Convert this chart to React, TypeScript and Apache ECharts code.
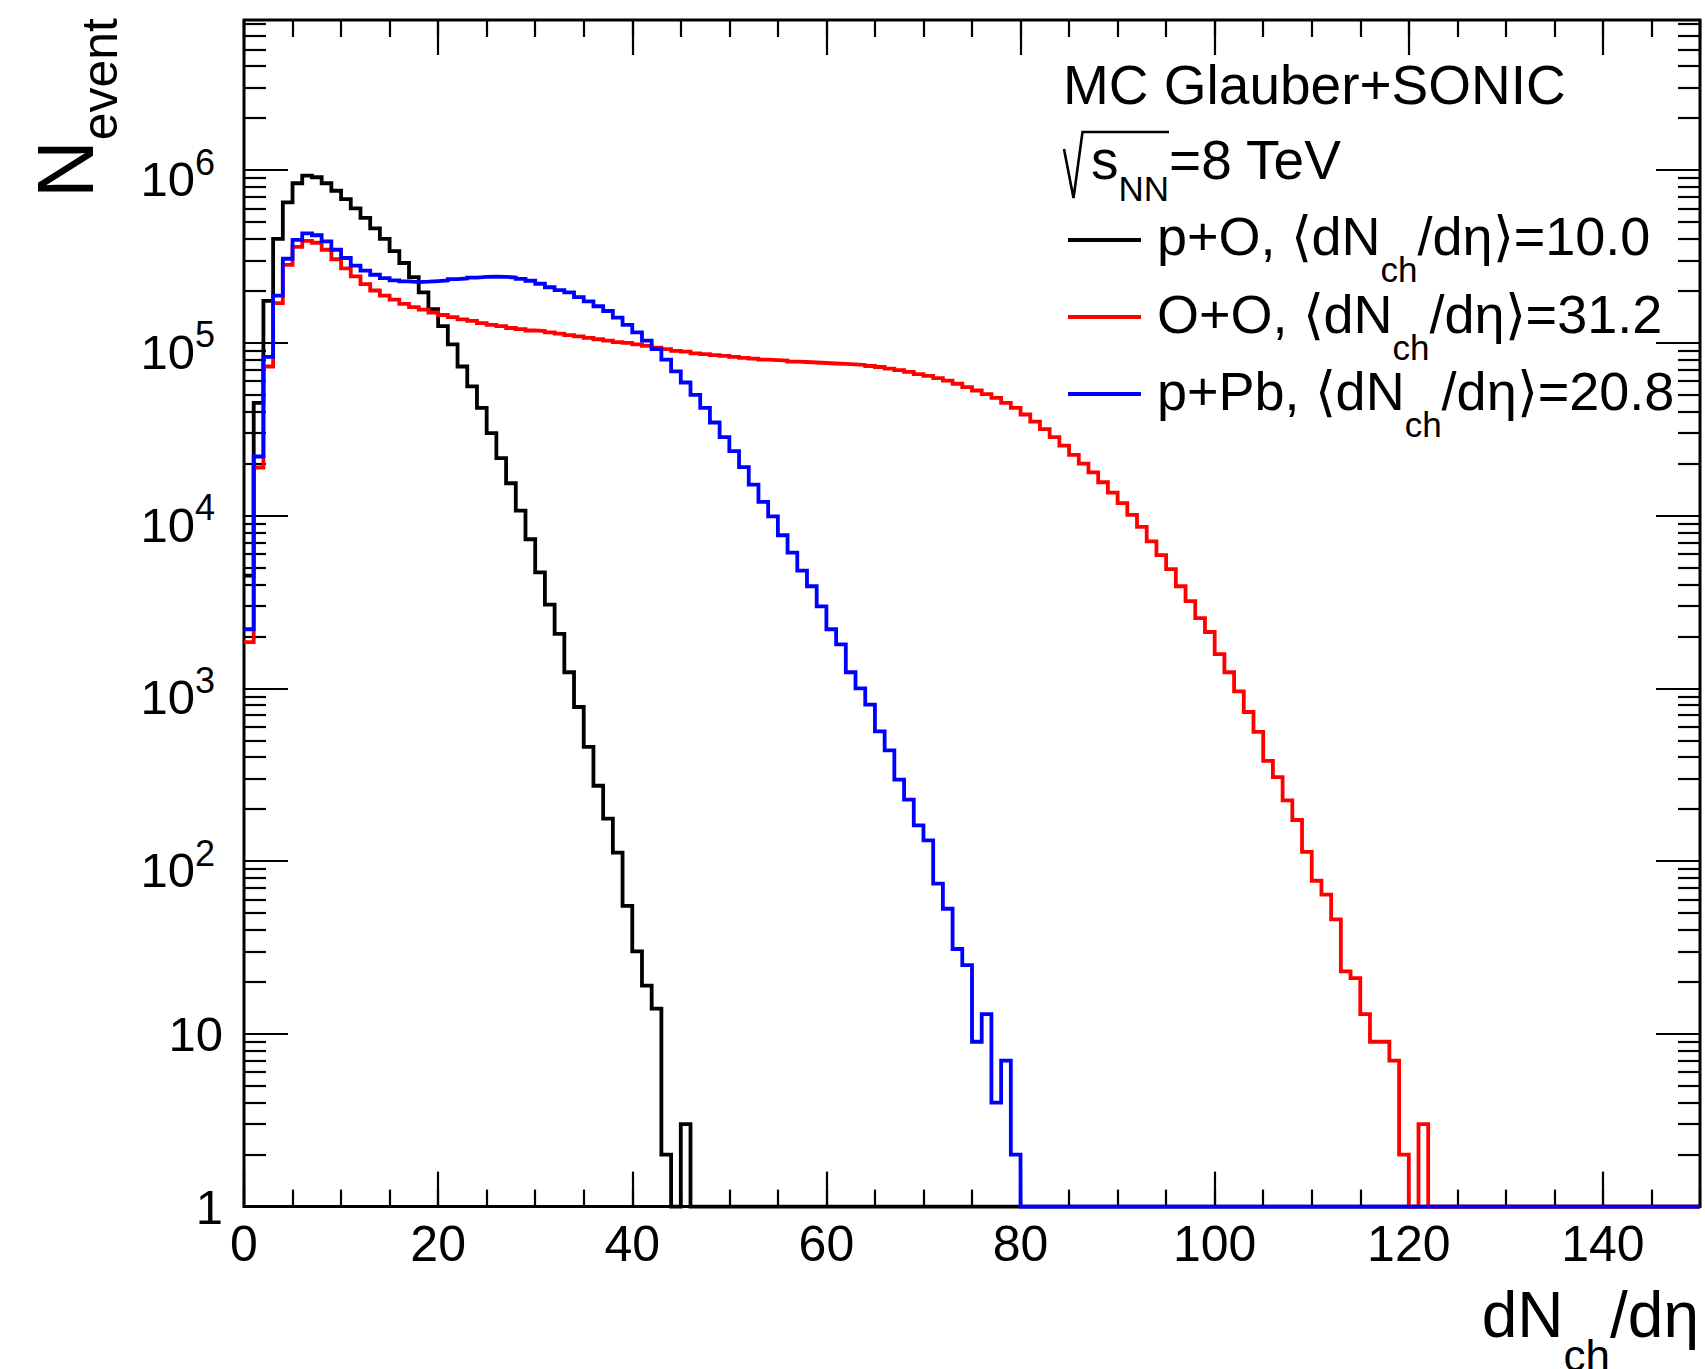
import React, { useEffect, useRef } from "react";
import * as echarts from "echarts";

const FONT = '"Liberation Sans", Arial, Helvetica, sans-serif';

// ---- axis ranges / ticks ----
const X_MIN = 0;
const X_MAX = 150;
const BIN_WIDTH = 1;
const N_BINS = 150;
const Y_MIN = 1;
const Y_MAX = 7.4e6;
const X_MAJOR_STEP = 20;
const X_MINOR_STEP = 5;
const yMajorTicks = [1, 10, 100, 1000, 10000, 100000, 1000000];
const yTickLabels = ["1", "10", "10^2", "10^3", "10^4", "10^5", "10^6"];
const yMinorMultipliers = [2, 3, 4, 5, 6, 7, 8, 9];

// ---- series (bin contents, bin i covers [i, i+1); bins not listed are empty) ----
const seriesNames = ["p+O", "O+O", "p+Pb"];
const seriesMeans = ["10.0", "31.2", "20.8"];
const seriesColors = ["#000000", "#ff0000", "#0000ff"];

const pOCounts = [
  4500, 45000, 175000, 400000, 650000, 840000, 930000, 910000, 840000, 760000,
  680000, 600000, 530000, 460000, 400000, 340000, 290000, 240000, 196000, 157000,
  125000, 98000, 73000, 56000, 42000, 30000, 21500, 15400, 10700, 7300,
  4700, 3050, 2070, 1240, 780, 458, 273, 176, 112, 55,
  30, 19, 14, 2, 0, 3,
];

const OOCounts = [
  1850, 19000, 73000, 170000, 283000, 360000, 390000, 380000, 346000, 305000,
  270000, 243000, 219000, 201000, 188000, 178000, 168000, 161000, 156000, 150000,
  145000, 141000, 137000, 134000, 130000, 127000, 125000, 122000, 120000, 118000,
  117000, 115000, 113000, 111000, 109000, 107000, 105000, 103000, 101000, 100000,
  98000, 96000, 94000, 92000, 90000, 89000, 87000, 86000, 85000, 84000,
  83000, 82000, 81000, 80000, 79500, 79000, 78000, 77500, 77000, 76500,
  76000, 75500, 75000, 74500, 73500, 72500, 71000, 69500, 68000, 66000,
  64500, 62500, 60500, 58000, 55500, 53000, 50500, 48000, 45000, 42000,
  38500, 35000, 31700, 28500, 25400, 22500, 20000, 17800, 15600, 13600,
  11800, 10100, 8600, 7100, 5900, 4900, 3900, 3200, 2550, 2120,
  1580, 1240, 960, 730, 560, 380, 306, 225, 173, 113,
  77, 64, 46, 23, 21, 13, 9, 9, 7, 2,
  0, 3,
];

const pPbCounts = [
  2200, 22000, 83000, 188000, 307000, 395000, 430000, 420000, 387000, 346000,
  310000, 280000, 262000, 248000, 237000, 230000, 227000, 225000, 226000, 228000,
  230000, 234000, 236000, 239000, 241000, 242000, 241000, 239000, 235000, 229000,
  220000, 210000, 202000, 196000, 184000, 174000, 163000, 153000, 140000, 127000,
  115000, 103000, 92000, 80000, 68500, 59000, 50000, 42000, 34600, 28500,
  23600, 19100, 15100, 12000, 9900, 7700, 6100, 4800, 3900, 2980,
  2200, 1800, 1240, 1000, 805, 563, 438, 296, 227, 161,
  132, 74, 53, 31, 25, 9, 13, 4, 7, 2,
];

const allCounts = [pOCounts, OOCounts, pPbCounts];

function histPoints(counts: number[]): [number, number][] {
  const pts: [number, number][] = [];
  for (let i = 0; i < N_BINS; i++) {
    const c = i < counts.length ? counts[i] : 0;
    // empty bins sit on the axis minimum, as in a log-scale histogram outline
    pts.push([X_MIN + i * BIN_WIDTH, Math.max(c, Y_MIN)]);
  }
  pts.push([X_MAX, pts[pts.length - 1][1]]);
  return pts;
}

function yMinorTicks(): number[] {
  const out: number[] = [];
  for (const d of yMajorTicks) {
    for (const m of yMinorMultipliers) {
      const v = d * m;
      if (v < Y_MAX) out.push(v);
    }
  }
  return out;
}

function buildOption(): any {
  const tickStyle = { color: "#000", width: 2.2 };
  const xBase = (position: string, interval: number, len: number, labels: boolean) => ({
    type: "value",
    min: X_MIN,
    max: X_MAX,
    interval,
    position,
    offset: 0,
    axisLine: { show: false, onZero: false },
    splitLine: { show: false },
    axisTick: { show: true, inside: true, length: len, lineStyle: tickStyle },
    axisLabel: labels
      ? {
          show: true,
          margin: 12,
          fontSize: 50,
          fontFamily: FONT,
          color: "#000",
          showMaxLabel: false,
          showMinLabel: true,
        }
      : { show: false },
  });
  const yLabelFmt = (v: number) => {
    const idx = yMajorTicks.findIndex((t) => Math.abs(Math.log10(t) - Math.log10(v)) < 1e-6);
    const lab = idx >= 0 ? yTickLabels[idx] : String(v);
    if (lab.indexOf("^") >= 0) {
      const [b, e] = lab.split("^");
      return `{b|${b}}{s|${e}}`;
    }
    return `{c|${lab}}`;
  };
  const yBase = (position: string, values: number[], len: number, labels: boolean) => ({
    type: "log",
    logBase: 10,
    min: Y_MIN,
    max: Y_MAX,
    position,
    offset: 0,
    axisLine: { show: false, onZero: false },
    splitLine: { show: false },
    minorTick: { show: false },
    axisTick: { show: true, inside: true, length: len, lineStyle: tickStyle, customValues: values },
    axisLabel: labels
      ? {
          show: true,
          customValues: values,
          margin: 21,
          color: "#000",
          fontFamily: FONT,
          fontSize: 49,
          formatter: yLabelFmt,
          rich: {
            c: { fontSize: 49, fontFamily: FONT, color: "#000" },
            b: { fontSize: 49, fontFamily: FONT, color: "#000", verticalAlign: "top", padding: [18, 0, 0, 0] },
            s: { fontSize: 36, fontFamily: FONT, color: "#000", verticalAlign: "top", padding: [7.5, 8, 0, 0] },
          },
        }
      : { show: false },
  });

  const minors = yMinorTicks();

  const series = allCounts.map((counts, i) => ({
    name: seriesNames[i],
    type: "line",
    xAxisIndex: 0,
    yAxisIndex: 0,
    step: "end",
    data: histPoints(counts),
    symbol: "none",
    showSymbol: false,
    clip: false,
    silent: true,
    lineStyle: { color: seriesColors[i], width: 3.8, join: "miter", cap: "butt" },
    itemStyle: { color: seriesColors[i] },
    z: 2 + i,
  }));

  // ---- annotation / legend graphics ----
  const legendX = 1068;
  const legendLineLen = 73;
  const legendTextX = 1157;
  const legendBaselines = [255, 333, 410];
  const legendLineYs = [240, 317, 394];
  const mainFs = 54;
  const subFs = 35;

  const legendEls: any[] = [];
  seriesNames.forEach((name, i) => {
    legendEls.push({
      type: "line",
      shape: { x1: legendX, y1: legendLineYs[i], x2: legendX + legendLineLen, y2: legendLineYs[i] },
      style: { stroke: seriesColors[i], lineWidth: 4 },
      silent: true,
    });
    legendEls.push({
      type: "text",
      x: legendTextX,
      y: legendBaselines[i] - 45.7,
      silent: true,
      style: {
        text: `{a|${name}, \u27E8dN}{s|ch}{a|/d\u03B7\u27E9=${seriesMeans[i]}}`,
        align: "left",
        textAlign: "left",
        verticalAlign: "top",
        textVerticalAlign: "top",
        fill: "#000",
        fontSize: mainFs,
        fontFamily: FONT,
        rich: {
          a: { fontSize: mainFs, fontFamily: FONT, fill: "#000", color: "#000", verticalAlign: "top" },
          s: { fontSize: subFs, fontFamily: FONT, fill: "#000", color: "#000", verticalAlign: "top", padding: [43, 0, 0, 0] },
        },
      },
    });
  });

  const graphic: any[] = [
    {
      type: "text",
      x: 1063,
      y: 85,
      silent: true,
      style: {
        text: "MC Glauber+SONIC",
        align: "left",
        textAlign: "left",
        verticalAlign: "middle",
        textVerticalAlign: "middle",
        fill: "#000",
        fontSize: 55,
        fontFamily: FONT,
      },
    },
    {
      type: "polyline",
      silent: true,
      shape: { points: [[1064, 149], [1073.5, 198], [1082.5, 132], [1169, 132]] },
      style: { stroke: "#000", lineWidth: 2.6, fill: "none", lineJoin: "miter" },
    },
    {
      type: "text",
      x: 1091,
      y: 132,
      silent: true,
      style: {
        text: "{m|s}{n|NN}{m|=8 TeV}",
        align: "left",
        textAlign: "left",
        verticalAlign: "top",
        textVerticalAlign: "top",
        fill: "#000",
        fontSize: 55,
        fontFamily: FONT,
        rich: {
          m: { fontSize: 55, fontFamily: FONT, fill: "#000", color: "#000", verticalAlign: "top" },
          n: { fontSize: 35, fontFamily: FONT, fill: "#000", color: "#000", verticalAlign: "top", padding: [38.5, 0, 0, 0] },
        },
      },
    },
    ...legendEls,
    // x-axis title
    {
      type: "text",
      x: 1699,
      y: 1283,
      silent: true,
      style: {
        text: "{m|dN}{s|ch}{m|/d\u03B7}",
        align: "right",
        textAlign: "right",
        verticalAlign: "top",
        textVerticalAlign: "top",
        fill: "#000",
        fontSize: 64,
        fontFamily: FONT,
        rich: {
          m: { fontSize: 64, fontFamily: FONT, fill: "#000", color: "#000", verticalAlign: "top" },
          s: { fontSize: 44, fontFamily: FONT, fill: "#000", color: "#000", verticalAlign: "top", padding: [50, 0, 0, 0] },
        },
      },
    },
    // y-axis title (rotated)
    {
      type: "text",
      x: 25,
      y: 18,
      rotation: Math.PI / 2,
      silent: true,
      style: {
        text: "{n|N}{e|event}",
        align: "right",
        textAlign: "right",
        verticalAlign: "top",
        textVerticalAlign: "top",
        fill: "#000",
        fontSize: 80,
        fontFamily: FONT,
        rich: {
          n: { fontSize: 80, fontFamily: FONT, fill: "#000", color: "#000", verticalAlign: "top" },
          e: { fontSize: 50, fontFamily: FONT, fill: "#000", color: "#000", verticalAlign: "top", padding: [50, 0, 0, 0] },
        },
      },
    },
  ];

  return {
    animation: false,
    backgroundColor: "#ffffff",
    textStyle: { fontFamily: FONT },
    grid: {
      left: 244,
      top: 20,
      width: 1456,
      height: 1186.6,
      show: true,
      borderColor: "#000",
      borderWidth: 3,
      backgroundColor: "transparent",
      containLabel: false,
      outerBoundsMode: "none",
    },
    xAxis: [
      xBase("bottom", X_MAJOR_STEP, 35, true),
      xBase("bottom", X_MINOR_STEP, 17, false),
      xBase("top", X_MAJOR_STEP, 35, false),
      xBase("top", X_MINOR_STEP, 17, false),
    ],
    yAxis: [
      yBase("left", yMajorTicks, 44, true),
      yBase("left", minors, 22, false),
      yBase("right", yMajorTicks, 44, false),
      yBase("right", minors, 22, false),
    ],
    series,
    graphic,
  };
}

export default function App() {
  const ref = useRef<HTMLDivElement>(null);
  useEffect(() => {
    if (!ref.current) return;
    const chart = echarts.init(ref.current, null, { renderer: "svg" });
    chart.setOption(buildOption());
    return () => {
      chart.dispose();
    };
  }, []);
  return (
    <div
      ref={ref}
      style={{ position: "absolute", left: 0, top: 0, width: 1705, height: 1369, background: "#fff" }}
    />
  );
}
